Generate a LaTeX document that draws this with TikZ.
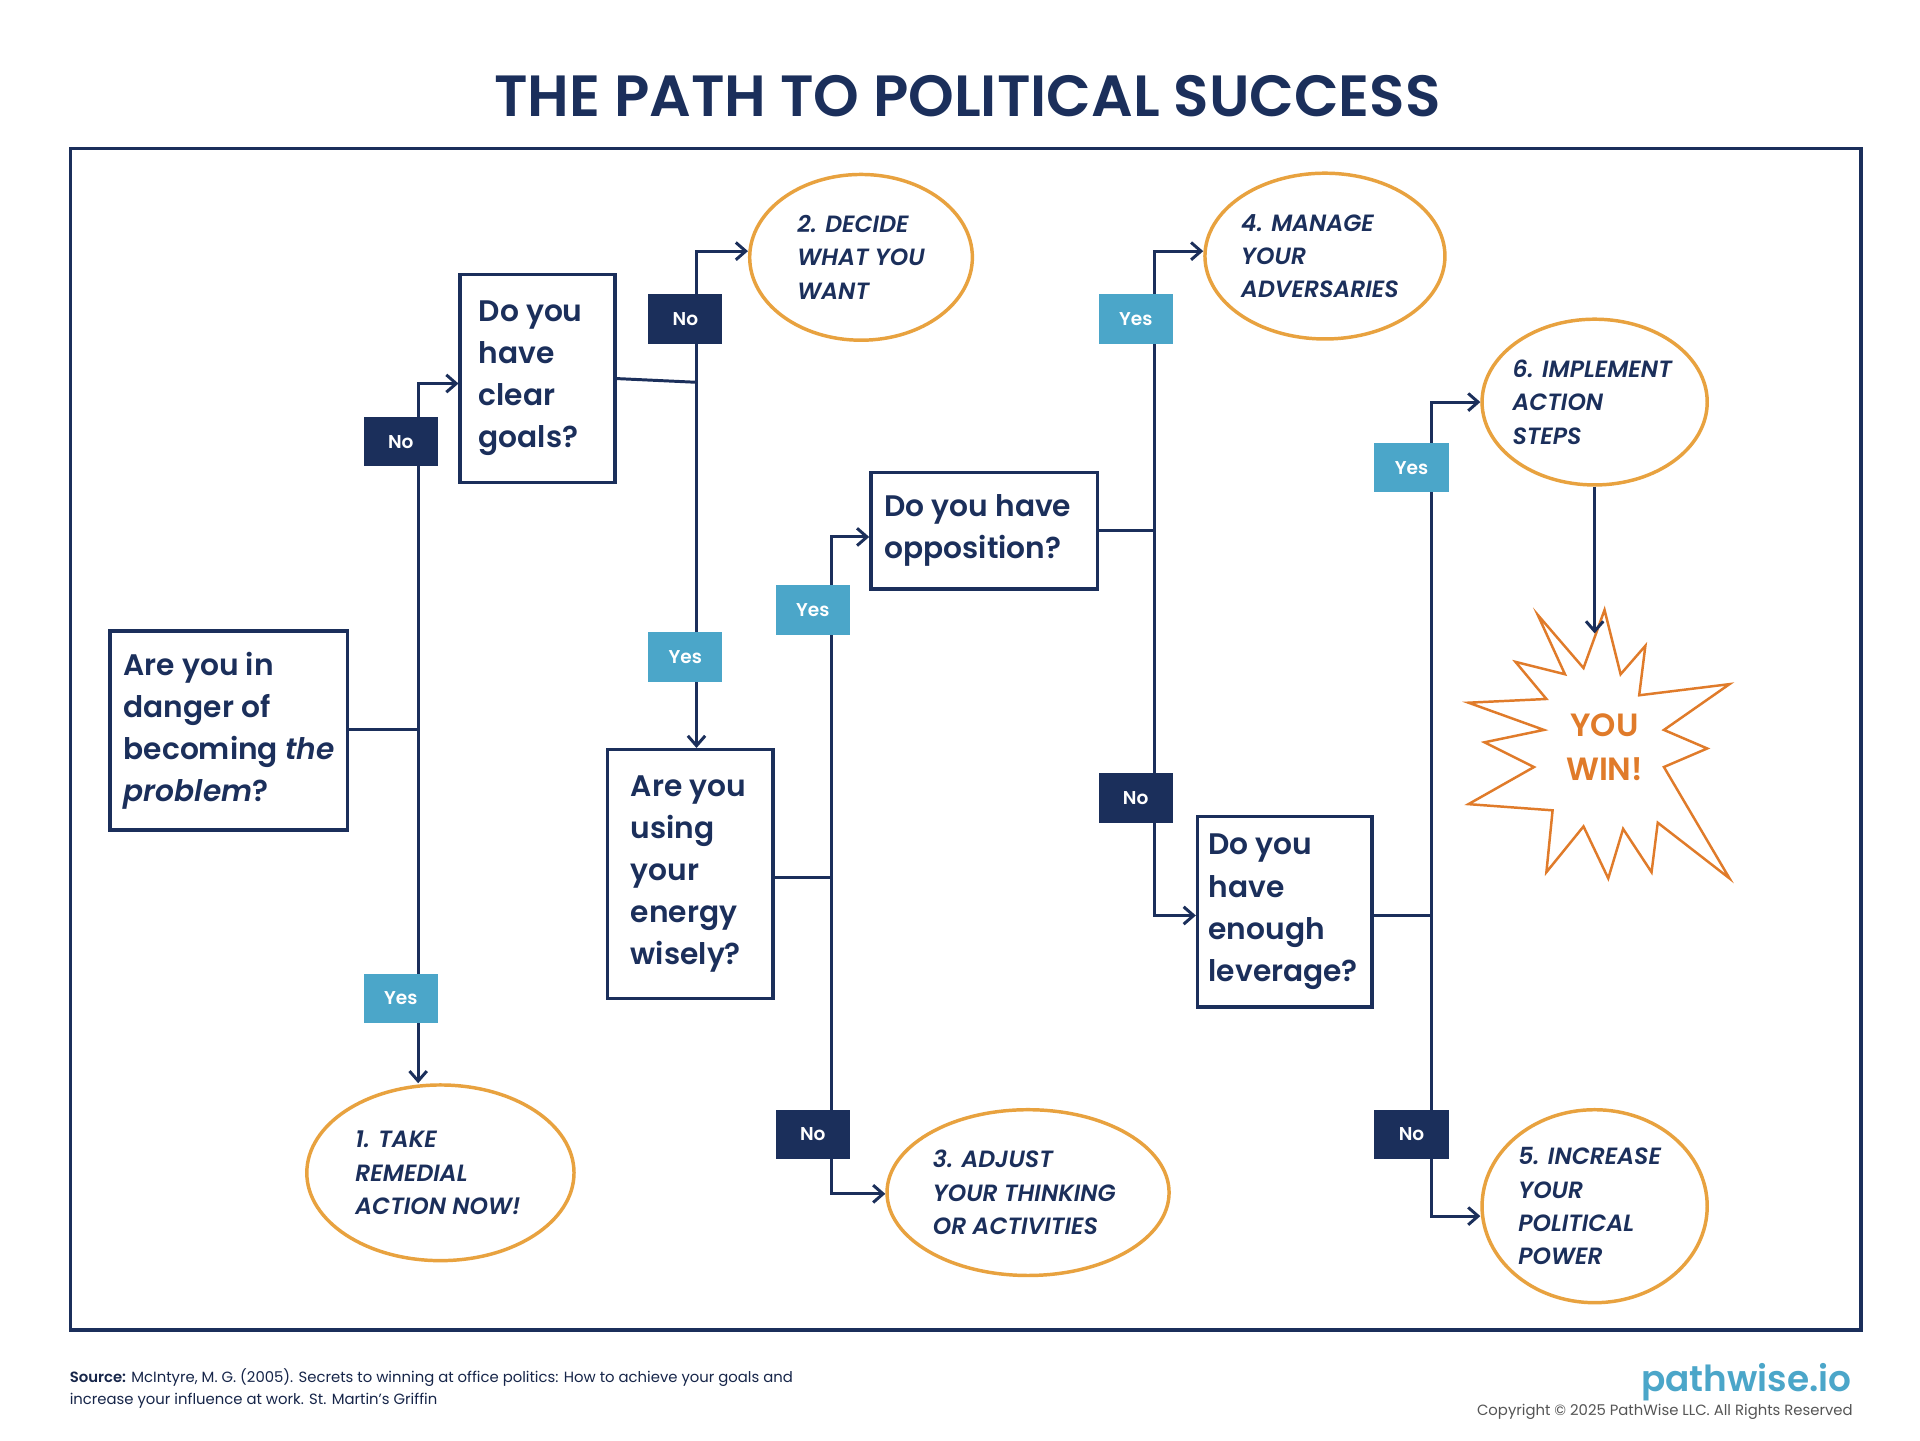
\documentclass[tikz,border=0pt]{standalone}
\usepackage{fontspec}
\setmainfont{Poppins}[BoldFont={Poppins SemiBold},BoldItalicFont={Poppins SemiBold Italic}]
\usetikzlibrary{arrows.meta,shapes.geometric,calc}
\definecolor{navy}{HTML}{1B2F5B}
\definecolor{lblue}{HTML}{4BA6C9}
\definecolor{orng}{HTML}{E8A23F}
\definecolor{starc}{HTML}{E07B2A}
\definecolor{greyt}{HTML}{555555}
\begin{document}
\begin{tikzpicture}[x=0.5pt,y=-0.5pt,
  qbox/.style={draw=navy,line width=1.4pt,fill=white,inner sep=0pt},
  qtext/.style={anchor=west,align=left,text=navy,font=\fontsize{12}{17}\selectfont\bfseries,inner sep=0pt},
  ell/.style={draw=orng,line width=1.4pt,ellipse,fill=white,inner sep=0pt},
  etext/.style={align=left,text=navy,font=\fontsize{9.5}{13.5}\selectfont\bfseries\itshape,inner sep=0pt},
  conn/.style={draw=navy,line width=1.2pt},
  arr/.style={conn,-{Straight Barb[length=4pt,width=7pt]}},
  nolab/.style={fill=navy,text=white,minimum width=30pt,minimum height=20pt,font=\fontsize{7.5}{8}\selectfont\bfseries,inner sep=0pt},
  yeslab/.style={fill=lblue,text=white,minimum width=30pt,minimum height=20pt,font=\fontsize{7.5}{8}\selectfont\bfseries,inner sep=0pt}]
\useasboundingbox (0,0) rectangle (1552,1164);
\fill[white] (0,0) rectangle (1552,1164);
\node[text=navy,font=\fontsize{23.5}{28}\selectfont\bfseries] (title) at (782,78) {THE PATH TO POLITICAL SUCCESS};
\draw[navy,line width=1.5pt] (57,120) rectangle (1504,1075);

% question boxes
\node[qbox,minimum width=96pt,minimum height=80.5pt] (q1) at (185,590.5) {};
\node[qtext] at ($(q1.west)+(12,0)$) {Are you in\\danger of\\becoming \textit{the}\\\textit{problem}?};
\node[qbox,minimum width=62.5pt,minimum height=84pt] (q2) at (434.5,306) {};
\node[qtext] at ($(q2.west)+(16,0)$) {Do you\\have\\clear\\goals?};
\node[qbox,minimum width=67pt,minimum height=100.5pt] (q3) at (558,706.5) {};
\node[qtext] at ($(q3.west)+(20,0)$) {Are you\\using\\your\\energy\\wisely?};
\node[qbox,minimum width=91.5pt,minimum height=47pt] (q4) at (795.5,429) {};
\node[qtext] at ($(q4.west)+(12,0)$) {Do you have\\opposition?};
\node[qbox,minimum width=70.5pt,minimum height=77pt] (q5) at (1038.5,737) {};
\node[qtext] at ($(q5.west)+(10,0)$) {Do you\\have\\enough\\leverage?};

% ellipses
\node[ell,minimum width=108pt,minimum height=71pt] (e1) at (356,948) {};
\node[etext] at (354,948) {1. TAKE\\REMEDIAL\\ACTION NOW!};
\node[ell,minimum width=90pt,minimum height=67pt] (e2) at (696,208) {};
\node[etext] at (696,208) {2. DECIDE\\WHAT YOU\\WANT};
\node[ell,minimum width=114pt,minimum height=67pt] (e3) at (831,964) {};
\node[etext] at (828,964) {3. ADJUST\\YOUR THINKING\\OR ACTIVITIES};
\node[ell,minimum width=97pt,minimum height=67pt] (e4) at (1071,207) {};
\node[etext] at (1067,207) {4. MANAGE\\YOUR\\ADVERSARIES};
\node[ell,minimum width=91pt,minimum height=78pt] (e5) at (1289,975) {};
\node[etext] at (1285,975) {5. INCREASE\\YOUR\\POLITICAL\\POWER};
\node[ell,minimum width=91pt,minimum height=67pt] (e6) at (1289,325) {};
\node[etext] at (1287,325) {6. IMPLEMENT\\ACTION\\STEPS};

% starburst
\draw[starc,line width=1pt,line join=miter]
 (1297,493) -- (1310,545) -- (1330,522) -- (1325,562) -- (1398,553) -- (1345,590)
 -- (1380,605) -- (1345,620) -- (1398,710) -- (1340,665) -- (1335,705) -- (1312,670)
 -- (1300,710) -- (1280,668) -- (1250,705) -- (1255,655) -- (1187,650) -- (1240,620)
 -- (1200,600) -- (1248,590) -- (1187,568) -- (1250,565) -- (1225,535) -- (1265,545)
 -- (1243,497) -- (1280,540) -- cycle;
\node[text=starc,font=\fontsize{13}{18}\selectfont\bfseries,align=center] (win) at (1297,604) {YOU\\WIN!};
\coordinate (startop) at (1289,512);

% connectors
\coordinate (j1) at (338,590);
\draw[conn] (q1.east |- j1) -- (j1);
\draw[arr] (j1) -- (338,310) -- (q2.west |- 0,310);
\draw[arr] (j1) -- (j1 |- e1.north);
\coordinate (j2) at (563,309);
\draw[conn] (q2.east) -- (j2);
\draw[arr] (j2) -- (563,203) -- (e2.west |- 0,203);
\draw[arr] (j2) -- (j2 |- q3.north);
\coordinate (j3) at (672,709);
\draw[conn] (q3.east |- j3) -- (j3);
\draw[arr] (j3) -- (672,434) -- (q4.west |- 0,434);
\draw[arr] (j3) -- (672,965) -- (e3.west |- 0,965);
\coordinate (j4) at (933,429);
\draw[conn] (q4.east) -- (j4);
\draw[arr] (j4) -- (933,203) -- (e4.west |- 0,203);
\draw[arr] (j4) -- (933,740) -- (q5.west |- 0,740);
\coordinate (j5) at (1157,740);
\draw[conn] (q5.east |- j5) -- (j5);
\draw[arr] (j5) -- (1157,325) -- (e6.west);
\draw[arr] (j5) -- (1157,983) -- (e5.west |- 0,983);
\draw[arr] (e6.south) -- (startop);

% labels
\node[nolab] (l1) at (324,357) {No};
\node[yeslab] (l2) at (324,807) {Yes};
\node[nolab] (l3) at (554,258) {No};
\node[yeslab] (l4) at (554,531) {Yes};
\node[yeslab] (l5) at (657,493) {Yes};
\node[nolab] (l6) at (657,917) {No};
\node[yeslab] (l7) at (918,258) {Yes};
\node[nolab] (l8) at (918,645) {No};
\node[yeslab] (l9) at (1141,378) {Yes};
\node[nolab] (l10) at (1141,917) {No};

% footer
\node[anchor=north west,align=left,text=navy!80!black,font=\fontsize{6}{9}\selectfont,inner sep=0pt] (src) at (56,1106)
 {\textbf{Source:} McIntyre, M. G. (2005). Secrets to winning at office politics: How to achieve your goals and\\increase your influence at work. St. Martin's Griffin};
\node[anchor=east,text=lblue,font=\fontsize{14.5}{16}\selectfont\bfseries,inner sep=0pt] (logo) at (1497,1117) {pathwise.io};
\node[anchor=east,text=greyt,font=\fontsize{6}{8}\selectfont,inner sep=0pt] (copy) at (1498,1141) {Copyright © 2025 PathWise LLC. All Rights Reserved};
\end{tikzpicture}
\end{document}
